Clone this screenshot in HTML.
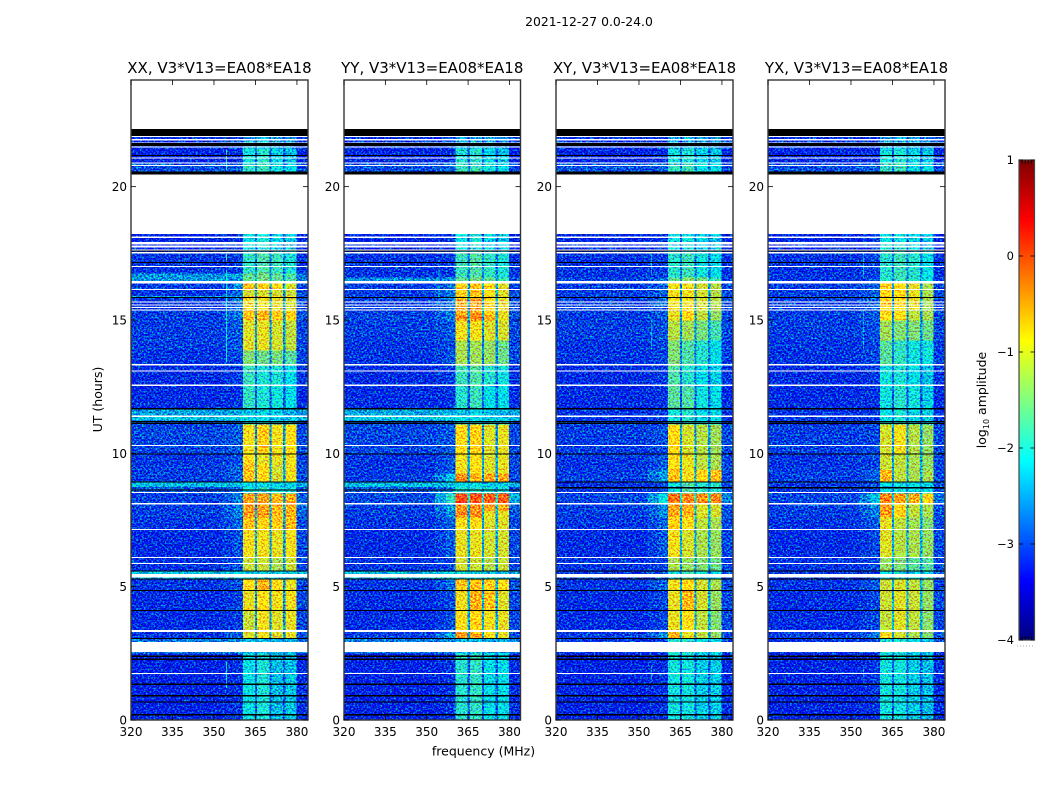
<!DOCTYPE html>
<html lang="en">
<head>
<meta charset="utf-8">
<title>2021-12-27 dynamic spectra</title>
<style>
html,body{margin:0;padding:0;background:#fff;}
svg{display:block;font-family:"DejaVu Sans","Liberation Sans",sans-serif;fill:#000;}
</style>
</head>
<body>
<svg id="chart" xmlns="http://www.w3.org/2000/svg" width="1050" height="800" viewBox="0 0 1050 800">
<defs>
<filter id="grain" color-interpolation-filters="sRGB" x="0" y="0" width="1" height="1">
<feTurbulence type="fractalNoise" baseFrequency="0.52 0.58" numOctaves="2" seed="7" result="n"/>
<feColorMatrix in="n" type="matrix" values="0 0 0 0 0.5  2.2 0 0 0 -0.68  0 0 1.8 0 -0.45  0 0 0 0 1" result="g"/>
<feComposite in="SourceGraphic" in2="g" operator="arithmetic" k1="0" k2="1" k3="1" k4="-0.5"/>
</filter>
</defs>
<rect x="0" y="0" width="1050" height="800" fill="#fff"/>
<text x="589" y="26" font-size="12.4" text-anchor="middle">2021-12-27 0.0-24.0</text>
<text x="483.5" y="755.5" font-size="12.5" text-anchor="middle">frequency (MHz)</text>
<text transform="translate(102 399.5) rotate(-90)" font-size="12.5" text-anchor="middle">UT (hours)</text>
<text transform="translate(986 400) rotate(-90)" font-size="12.5" text-anchor="middle">log<tspan font-size="8" dy="3">10</tspan><tspan dy="-3"> amplitude</tspan></text>
<g id="panels"></g>
<g id="colorbar"></g>
</svg>
<script>
// Frequency axis (MHz)
const freqMin = 320;
const freqMax = 384;
const freqTicks = [320, 335, 350, 365, 380];
// Time axis (hours)
const timeMax = 24;
const timeTicks = [0, 5, 10, 15, 20];
// Colour scale (log10 amplitude)
const colorMin = -4;
const colorMax = 1;
const colorTicks = [-4, -3, -2, -1, 0, 1];
const colorTickLabels = ['\u22124', '\u22123', '\u22122', '\u22121', '0', '1'];

// Heatmap column edges in MHz
const freqEdges = [320, 353, 357, 360.5, 364.8, 365.6, 370, 370.8, 375, 375.9, 379.9, 384];

// Row layout: startHour, endHour, background, spill, band1, band2, band3, band4, gap, tail (log10 amplitude)
const xxRows = [
[0,2.51,-3.15,-3.05,-2.1,-2.0,-2.35,-2.3,-2.85,-3.1],
[2.51,3.04,-2.7,-2.6,-2.35,-2.3,-2.4,-2.4,-2.55,-2.7],
[3.04,3.3,-3.05,-2.8,-1.05,-0.95,-1.05,-1.0,-2.55,-2.95],
[3.3,4.09,-3.1,-3.0,-1.15,-0.95,-1.05,-1.0,-2.55,-2.95],
[4.09,4.2,-3.05,-2.6,-0.6,-0.7,-1.0,-1.1,-2.55,-2.95],
[4.2,4.85,-3.1,-3.0,-1.0,-0.9,-0.95,-0.95,-2.55,-2.95],
[4.85,5.29,-3.05,-2.9,-0.85,-0.6,-0.9,-1.0,-2.55,-2.95],
[5.29,5.59,-2.3,-2.25,-2.15,-2.15,-2.25,-2.25,-2.4,-2.4],
[5.59,6.08,-3.05,-2.85,-1.15,-1.15,-1.3,-1.15,-2.55,-2.95],
[6.08,7.13,-3.1,-2.9,-0.95,-0.95,-1.0,-0.95,-2.5,-2.95],
[7.13,7.61,-3.05,-2.8,-0.7,-0.8,-0.75,-0.65,-2.5,-2.9],
[7.61,8.51,-3.0,-2.65,-0.5,-0.5,-0.65,-0.6,-2.45,-2.8],
[8.51,8.75,-2.9,-2.8,-2.05,-1.95,-2.05,-2.05,-2.5,-2.95],
[8.75,8.96,-2.35,-2.3,-2.15,-2.15,-2.25,-2.25,-2.4,-2.4],
[8.96,9.6,-3.0,-2.8,-0.7,-0.85,-1.1,-0.95,-2.5,-2.95],
[9.6,10,-3.05,-2.9,-0.85,-1.0,-1.0,-0.95,-2.55,-2.95],
[10,11.1,-2.95,-2.85,-0.95,-0.75,-0.95,-0.9,-2.55,-2.95],
[11.1,11.25,-2.95,-2.85,-2.25,-2.15,-2.25,-2.35,-2.65,-2.95],
[11.25,11.41,-2.3,-2.25,-2.2,-2.15,-2.25,-2.25,-2.4,-2.4],
[11.41,11.66,-2.5,-2.45,-2.3,-2.2,-2.3,-2.4,-2.5,-2.55],
[11.66,12.53,-3.1,-3.05,-1.9,-2.0,-2.05,-2.15,-2.85,-3.1],
[12.53,13.28,-3.1,-3.0,-1.85,-2.0,-2.0,-2.15,-2.75,-3.05],
[13.28,13.87,-3.05,-2.95,-1.5,-1.6,-1.55,-1.7,-2.65,-2.95],
[13.87,15,-3.0,-2.85,-1.05,-1.0,-1.1,-1.2,-2.55,-2.95],
[15,15.38,-3.0,-2.7,-0.7,-0.65,-0.75,-0.8,-2.5,-2.9],
[15.38,15.86,-3.05,-2.75,-0.95,-0.95,-1.0,-1.1,-2.5,-2.95],
[15.86,15.92,-2.5,-2.4,-0.7,-0.7,-0.8,-0.9,-2.45,-2.8],
[15.92,16.13,-3.05,-2.8,-1.1,-1.1,-1.1,-1.15,-2.55,-2.95],
[16.13,16.39,-3.0,-2.6,-0.65,-0.7,-0.9,-1.1,-2.5,-2.95],
[16.39,16.75,-2.55,-2.5,-1.65,-1.55,-1.65,-1.75,-2.45,-2.7],
[16.75,17.51,-3.05,-3.0,-1.9,-1.75,-1.85,-2.0,-2.65,-3.05],
[17.51,18.22,-3.15,-3.05,-2.1,-2.0,-2.2,-2.3,-2.85,-3.15],
[20.46,20.9,-2.9,-2.8,-1.9,-1.85,-2.05,-2.15,-2.65,-2.95],
[20.9,21.45,-3.15,-3.1,-2.05,-1.95,-2.2,-2.3,-2.85,-3.15],
[21.45,21.9,-3.05,-3.0,-2.5,-2.4,-2.5,-2.6,-2.9,-3.05]
];
const yyRows = [
[0,2.51,-3.15,-3.05,-1.95,-1.9,-2.15,-2.15,-2.85,-3.1],
[2.51,3.04,-2.7,-2.6,-2.4,-2.35,-2.45,-2.45,-2.55,-2.7],
[3.04,3.3,-3.0,-2.5,-0.45,-0.55,-0.9,-1.0,-2.45,-2.9],
[3.3,4.09,-3.1,-2.9,-0.9,-0.8,-0.95,-1.0,-2.45,-2.95],
[4.09,4.84,-3.1,-2.95,-0.95,-0.6,-0.7,-1.05,-2.45,-2.95],
[4.84,5.29,-3.05,-2.7,-0.7,-0.7,-0.8,-0.9,-2.45,-2.9],
[5.29,5.59,-2.35,-2.3,-2.2,-2.2,-2.3,-2.3,-2.4,-2.4],
[5.59,6.08,-3.05,-2.95,-1.1,-1.15,-1.25,-1.15,-2.55,-2.95],
[6.08,7.13,-3.1,-2.85,-1.0,-1.0,-1.1,-1.1,-2.45,-2.95],
[7.13,7.61,-3.05,-2.8,-0.9,-0.9,-1.05,-1.05,-2.45,-2.95],
[7.61,7.85,-3.0,-2.6,-0.4,-0.4,-1.0,-1.0,-2.45,-2.9],
[7.85,8.1,-3.0,-2.5,-0.45,-0.45,-0.55,-0.55,-2.35,-2.8],
[8.1,8.51,-2.95,-1.9,-0.08,-0.1,-0.15,-0.18,-1.95,-2.4],
[8.51,8.75,-2.85,-2.6,-2.0,-1.95,-2.05,-2.05,-2.45,-2.85],
[8.75,8.96,-2.35,-2.3,-2.15,-2.15,-2.25,-2.25,-2.4,-2.4],
[8.96,9.25,-3.0,-2.3,-0.4,-0.6,-0.55,-0.55,-2.45,-2.95],
[9.25,10,-3.05,-2.85,-0.95,-0.9,-1.05,-1.0,-2.45,-2.95],
[10,11.1,-2.95,-2.85,-0.85,-0.8,-1.05,-1.0,-2.55,-2.95],
[11.1,11.25,-2.95,-2.85,-2.25,-2.15,-2.25,-2.35,-2.65,-2.95],
[11.25,11.41,-2.25,-2.2,-2.15,-2.15,-2.25,-2.25,-2.3,-2.3],
[11.41,11.66,-2.45,-2.4,-2.3,-2.2,-2.3,-2.4,-2.5,-2.5],
[11.66,12.53,-3.1,-3.05,-1.95,-1.85,-2.15,-2.15,-2.85,-3.1],
[12.53,13.28,-3.1,-3.0,-1.85,-1.75,-1.95,-2.05,-2.75,-3.05],
[13.28,14.25,-3.05,-2.9,-1.3,-1.35,-1.4,-1.6,-2.65,-2.95],
[14.25,15.0,-3.0,-2.85,-0.95,-0.95,-1.05,-1.1,-2.55,-2.95],
[15.0,15.2,-2.95,-2.7,-0.4,-0.35,-0.55,-1.0,-2.45,-2.9],
[15.2,15.86,-3.0,-2.7,-0.6,-0.55,-0.8,-1.0,-2.45,-2.9],
[15.86,16.39,-3.0,-2.7,-0.8,-0.7,-0.9,-1.05,-2.45,-2.95],
[16.39,16.61,-2.6,-2.55,-1.65,-1.55,-1.65,-1.85,-2.45,-2.8],
[16.61,17.51,-3.05,-3.0,-1.85,-1.75,-1.9,-2.0,-2.65,-3.05],
[17.51,18.22,-3.15,-3.05,-2.1,-2.0,-2.2,-2.3,-2.85,-3.15],
[20.46,20.9,-2.9,-2.8,-1.85,-1.85,-2.05,-2.15,-2.65,-2.95],
[20.9,21.45,-3.15,-3.1,-2.0,-1.95,-2.2,-2.3,-2.85,-3.15],
[21.45,21.9,-3.05,-3.0,-2.45,-2.4,-2.5,-2.6,-2.9,-3.05]
];
const xyRows = [
[0,2.51,-3.15,-3.05,-2.05,-2.05,-2.25,-2.25,-2.85,-3.1],
[2.51,3.04,-3.05,-2.95,-1.95,-1.95,-2.15,-2.15,-2.65,-2.95],
[3.04,3.3,-3.0,-2.6,-0.6,-1.0,-1.2,-1.4,-2.45,-2.95],
[3.3,4.09,-3.1,-2.95,-1.0,-0.9,-1.2,-1.5,-2.45,-2.95],
[4.09,4.84,-3.1,-2.95,-1.0,-0.65,-1.1,-1.4,-2.45,-2.95],
[4.84,5.29,-3.05,-2.8,-0.95,-0.85,-1.1,-1.3,-2.45,-2.95],
[5.29,5.59,-3.05,-2.95,-2.05,-1.85,-2.05,-2.15,-2.65,-2.95],
[5.59,6.08,-3.05,-2.95,-1.3,-1.4,-1.5,-1.6,-2.55,-2.95],
[6.08,7.13,-3.1,-2.85,-0.95,-1.1,-1.3,-1.4,-2.45,-2.95],
[7.13,7.61,-3.05,-2.8,-0.8,-0.9,-1.2,-1.3,-2.45,-2.95],
[7.61,8.1,-3.0,-2.6,-0.55,-0.6,-1.05,-1.1,-2.35,-2.9],
[8.1,8.51,-2.95,-2.1,-0.25,-0.4,-0.45,-0.4,-2.05,-2.6],
[8.51,8.96,-3.05,-2.95,-2.05,-1.75,-1.95,-1.95,-2.55,-2.95],
[8.96,9.38,-3.0,-2.5,-0.7,-0.95,-0.8,-0.7,-2.45,-2.95],
[9.38,10,-3.05,-2.85,-0.9,-1.0,-1.2,-1.3,-2.45,-2.95],
[10,11.1,-3.0,-2.9,-0.85,-1.1,-1.25,-1.35,-2.55,-2.95],
[11.1,11.66,-3.05,-3.0,-2.05,-1.95,-2.15,-2.15,-2.75,-3.05],
[11.66,12.53,-3.1,-3.05,-1.7,-1.75,-2.05,-2.15,-2.85,-3.1],
[12.53,13.28,-3.1,-3.0,-1.75,-1.95,-2.15,-2.25,-2.75,-3.05],
[13.28,14.25,-3.05,-2.95,-1.5,-1.75,-1.95,-2.15,-2.65,-3.0],
[14.25,15.0,-3.0,-2.9,-1.25,-1.35,-1.55,-1.8,-2.55,-2.95],
[15.0,15.38,-3.0,-2.85,-1.0,-0.85,-1.2,-1.4,-2.55,-2.95],
[15.38,16.39,-3.0,-2.8,-0.95,-0.95,-1.1,-1.25,-2.55,-2.95],
[16.39,16.61,-2.95,-2.7,-1.65,-1.45,-1.55,-1.85,-2.45,-2.9],
[16.61,17.51,-3.05,-3.0,-1.95,-1.85,-2.05,-2.15,-2.75,-3.05],
[17.51,18.22,-3.15,-3.05,-2.05,-2.05,-2.2,-2.3,-2.85,-3.15],
[20.46,20.9,-2.9,-2.8,-1.9,-1.85,-2.1,-2.15,-2.65,-2.95],
[20.9,21.45,-3.15,-3.1,-2.05,-2.0,-2.2,-2.3,-2.85,-3.15],
[21.45,21.9,-3.05,-3.0,-2.5,-2.4,-2.5,-2.6,-2.9,-3.05]
];
const yxRows = [
[0,2.51,-3.15,-3.05,-2.05,-2.05,-2.25,-2.35,-2.85,-3.1],
[2.51,3.04,-3.05,-2.95,-2.0,-2.0,-2.15,-2.25,-2.65,-2.95],
[3.04,3.3,-3.0,-2.7,-0.85,-1.1,-1.3,-1.5,-2.45,-2.95],
[3.3,4.09,-3.1,-2.95,-1.2,-1.05,-1.2,-1.45,-2.45,-2.95],
[4.09,4.84,-3.1,-2.95,-1.15,-1.05,-1.15,-1.4,-2.45,-2.95],
[4.84,5.29,-3.05,-2.85,-1.15,-1.1,-1.2,-1.4,-2.45,-2.95],
[5.29,5.59,-3.05,-2.95,-2.15,-2.05,-2.15,-2.2,-2.65,-2.95],
[5.59,6.08,-3.05,-2.95,-1.4,-1.5,-1.7,-1.7,-2.55,-2.95],
[6.08,7.13,-3.1,-2.95,-1.05,-1.25,-1.3,-1.4,-2.45,-2.95],
[7.13,7.61,-3.05,-2.85,-1.0,-1.2,-1.35,-1.5,-2.45,-2.95],
[7.61,8.1,-3.0,-2.65,-0.5,-0.8,-1.2,-1.3,-2.35,-2.9],
[8.1,8.51,-2.95,-2.3,-0.35,-0.5,-0.55,-0.8,-2.15,-2.7],
[8.51,8.96,-3.05,-2.95,-2.15,-2.05,-2.15,-2.15,-2.65,-2.95],
[8.96,9.38,-3.0,-2.8,-0.65,-1.2,-1.3,-1.3,-2.45,-2.95],
[9.38,10,-3.05,-2.95,-1.15,-1.2,-1.3,-1.4,-2.45,-2.95],
[10,11.1,-3.0,-2.95,-1.1,-0.95,-1.25,-1.4,-2.55,-2.95],
[11.1,11.66,-3.05,-3.0,-2.1,-2.0,-2.15,-2.25,-2.75,-3.05],
[11.66,12.53,-3.1,-3.05,-2.05,-1.95,-2.05,-2.25,-2.85,-3.1],
[12.53,13.28,-3.1,-3.0,-2.05,-2.0,-2.15,-2.35,-2.75,-3.05],
[13.28,14.25,-3.05,-2.95,-1.7,-1.9,-2.05,-2.05,-2.65,-3.0],
[14.25,15.0,-3.0,-2.9,-1.35,-1.5,-1.5,-1.6,-2.55,-2.95],
[15.0,15.38,-3.0,-2.85,-0.9,-0.9,-1.2,-1.3,-2.55,-2.95],
[15.38,16.39,-3.0,-2.8,-0.8,-0.85,-1.0,-1.3,-2.55,-2.95],
[16.39,17.51,-3.05,-2.95,-1.95,-1.85,-1.95,-2.1,-2.65,-3.05],
[17.51,18.22,-3.15,-3.05,-2.1,-2.05,-2.2,-2.3,-2.85,-3.15],
[20.46,20.9,-2.9,-2.8,-1.9,-1.85,-2.1,-2.15,-2.65,-2.95],
[20.9,21.45,-3.15,-3.1,-2.05,-2.0,-2.2,-2.3,-2.85,-3.15],
[21.45,21.9,-3.05,-3.0,-2.5,-2.4,-2.5,-2.6,-2.9,-3.05]
];

// Flagged time ranges (hours): no data drawn white, zero amplitude drawn black
const whiteRanges = [
[22.16,24],[21.86,21.9],[21.74,21.78],[21.64,21.66],[21.48,21.51],[21.06,21.1],[20.88,20.91],[20.79,20.81],
[18.22,20.46],[18.08,18.14],[17.84,17.92],[17.72,17.79],[17.6,17.65],[17.5,17.55],[16.99,17.03],[16.36,16.46],
[16.13,16.16],[15.65,15.7],[15.55,15.59],[15.45,15.49],[15.35,15.39],[13.29,13.35],[13.06,13.1],[12.53,12.59],
[11.37,11.41],[10.28,10.31],[8.51,8.55],[8.09,8.13],[7.13,7.16],[6.08,6.11],[5.85,5.89],[5.34,5.48],
[3.3,3.38],[2.55,2.93],[1.73,1.76]
];
const blackRanges = [
[21.9,22.16],[21.53,21.63],[21.15,21.18],[20.46,20.56],[17.56,17.6],[17.14,17.18],[15.84,15.86],[11.65,11.7],
[11.18,11.22],[11.1,11.15],[9.98,10.0],[8.9,8.95],[5.57,5.61],[5.28,5.31],[4.83,4.88],[4.08,4.13],[3.03,3.07],
[2.37,2.41],[2.25,2.31],[1.31,1.36],[0.89,0.93],[0.65,0.69],[0.17,0.22]
];
const xxExtraBlack = [[8.6,8.65]];
const yyExtraBlack = [[8.6,8.65]];
const xyExtraBlack = [[8.68,8.73]];
const yxExtraBlack = [[8.68,8.73]];

// Narrow interference spikes: frequency MHz, startHour, endHour, level
const xxSpikes = [[354.3,13.4,16.9,-2.1],[354.3,17.2,17.5,-1.7],[354.3,20.6,21.4,-1.9],[354.3,1.2,2.2,-2.1]];
const yySpikes = [[354.3,15.6,17.1,-2.4]];
const xySpikes = [[354.3,13.9,15.0,-2.5],[354.3,16.7,17.5,-2.4],[354.3,1.5,2.0,-2.5]];
const yxSpikes = [[354.3,13.9,15.4,-2.5],[354.3,16.6,17.5,-2.4],[354.3,1.6,2.0,-2.6]];

const panelTitles = ['XX, V3*V13=EA08*EA18', 'YY, V3*V13=EA08*EA18', 'XY, V3*V13=EA08*EA18', 'YX, V3*V13=EA08*EA18'];
const panelKeys = ['xx', 'yy', 'xy', 'yx'];
const panelRows = [xxRows, yyRows, xyRows, yxRows];
const panelExtraBlack = [xxExtraBlack, yyExtraBlack, xyExtraBlack, yxExtraBlack];
const panelSpikes = [xxSpikes, yySpikes, xySpikes, yxSpikes];

const SVGNS = 'http://www.w3.org/2000/svg';
const plotTop = 80, plotBottom = 720;
const panelLefts = [131, 344, 556, 768];
const panelRights = [308, 520.5, 733, 945];

function mk(parent, tag, attrs, text) {
  const node = document.createElementNS(SVGNS, tag);
  for (const k in attrs) node.setAttribute(k, attrs[k]);
  if (text !== undefined) node.textContent = text;
  parent.appendChild(node);
  return node;
}
function clamp01(v) { return Math.max(0, Math.min(1, v)); }
function jet(v) {
  const t = (v - colorMin) / (colorMax - colorMin);
  const r = clamp01(Math.min(4 * t - 1.5, -4 * t + 4.5));
  const g = clamp01(Math.min(4 * t - 0.5, -4 * t + 3.5));
  const b = clamp01(Math.min(4 * t + 0.5, -4 * t + 2.5));
  return 'rgb(' + Math.round(r * 255) + ',' + Math.round(g * 255) + ',' + Math.round(b * 255) + ')';
}
function xScale(i, f) { return panelLefts[i] + (f - freqMin) / (freqMax - freqMin) * (panelRights[i] - panelLefts[i]); }
function yScale(h) { return plotBottom - h / timeMax * (plotBottom - plotTop); }
function rowColumns(r) {
  const bg = r[2], spill = r[3], gap = r[8];
  return [bg, (bg + spill) / 2, spill, r[4], gap, r[5], gap, r[6], gap, r[7], r[9]];
}

const panelsRoot = document.getElementById('panels');
panelKeys.forEach(function (key, i) {
  const panel = mk(panelsRoot, 'g', {});
  
  
  const cells = mk(panel, 'g', { filter: 'url(#grain)', 'shape-rendering': 'crispEdges' });
  
  
  panelRows[i].forEach(function (r) {
    const cols = rowColumns(r);
    cols.forEach(function (v, c) {
      const cell = mk(cells, 'rect', {
        x: xScale(i, freqEdges[c]), y: yScale(r[1]),
        width: xScale(i, freqEdges[c + 1]) - xScale(i, freqEdges[c]) + 0.3,
        height: yScale(r[0]) - yScale(r[1]) + 0.3, fill: jet(v)
      });
      
      
    });
  });
  panelSpikes[i].forEach(function (s) {
    const spike = mk(cells, 'rect', {
      x: xScale(i, s[0]), y: yScale(s[2]), width: 1, height: yScale(s[1]) - yScale(s[2]), fill: jet(s[3])
    });
    
    
  });
  const flags = mk(panel, 'g', { 'shape-rendering': 'crispEdges' });
  
  
  whiteRanges.forEach(function (w) {
    const band = mk(flags, 'rect', {
      x: panelLefts[i], y: yScale(w[1]), width: panelRights[i] - panelLefts[i],
      height: Math.max(1, yScale(w[0]) - yScale(w[1])), fill: '#fff'
    });
    
    
  });
  blackRanges.concat(panelExtraBlack[i]).forEach(function (b) {
    const band = mk(flags, 'rect', {
      x: panelLefts[i], y: yScale(b[1]), width: panelRights[i] - panelLefts[i],
      height: Math.max(1, yScale(b[0]) - yScale(b[1])), fill: '#000'
    });
    
    
  });
  const frame = mk(panel, 'rect', {
    x: panelLefts[i], y: plotTop, width: panelRights[i] - panelLefts[i], height: plotBottom - plotTop,
    fill: 'none', stroke: '#333', 'stroke-width': 1.4
  });
  
  
  const title = mk(panel, 'text', {
    x: (panelLefts[i] + panelRights[i]) / 2, y: 73, 'font-size': 15, 'text-anchor': 'middle'
  }, panelTitles[i]);
  
  
  freqTicks.forEach(function (f) {
    const x = xScale(i, f);
    const t1 = mk(panel, 'line', { x1: x, x2: x, y1: plotBottom, y2: plotBottom - 5, stroke: '#000', 'stroke-width': 0.8 });
    
    
    const t2 = mk(panel, 'line', { x1: x, x2: x, y1: plotTop, y2: plotTop + 5, stroke: '#000', 'stroke-width': 0.8 });
    
    
    const label = mk(panel, 'text', { x: x, y: 736, 'font-size': 12, 'text-anchor': 'middle' }, String(f));
    
    
  });
  timeTicks.forEach(function (h) {
    const y = yScale(h);
    const t1 = mk(panel, 'line', { x1: panelLefts[i], x2: panelLefts[i] + 5, y1: y, y2: y, stroke: '#000', 'stroke-width': 0.8 });
    
    
    const t2 = mk(panel, 'line', { x1: panelRights[i], x2: panelRights[i] - 5, y1: y, y2: y, stroke: '#000', 'stroke-width': 0.8 });
    
    
    const label = mk(panel, 'text', { x: panelLefts[i] - 4, y: y + 4.5, 'font-size': 12, 'text-anchor': 'end' }, String(h));
    
    
  });
});

// Colorbar
const cbRoot = document.getElementById('colorbar');
const cbLeft = 1019, cbRight = 1034.5, cbTop = 160, cbBottom = 640;
function cbY(v) { return cbBottom - (v - colorMin) / (colorMax - colorMin) * (cbBottom - cbTop); }
const cbSteps = 256;
const cbGroup = mk(cbRoot, 'g', { 'shape-rendering': 'crispEdges' });


for (let s = 0; s < cbSteps; s++) {
  const v0 = colorMin + (colorMax - colorMin) * s / cbSteps;
  const v1 = colorMin + (colorMax - colorMin) * (s + 1) / cbSteps;
  const seg = mk(cbGroup, 'rect', { x: cbLeft, y: cbY(v1), width: cbRight - cbLeft, height: cbY(v0) - cbY(v1) + 0.5, fill: jet((v0 + v1) / 2) });
  
  
}
const cbFrame = mk(cbRoot, 'rect', { x: cbLeft, y: cbTop, width: cbRight - cbLeft, height: cbBottom - cbTop, fill: 'none', stroke: '#444', 'stroke-width': 1.2 });


colorTicks.forEach(function (v, k) {
  const y = cbY(v);
  const a = mk(cbRoot, 'line', { x1: cbLeft, x2: cbLeft + 4, y1: y, y2: y, stroke: '#000', 'stroke-width': 0.8 });
  
  
  const b = mk(cbRoot, 'line', { x1: cbRight, x2: cbRight - 4, y1: y, y2: y, stroke: '#000', 'stroke-width': 0.8 });
  
  
  const label = mk(cbRoot, 'text', { x: 1014, y: y + 4, 'font-size': 11.5, 'text-anchor': 'end' }, colorTickLabels[k]);
  
  
});
[cbTop, cbBottom].forEach(function (edgeY) {
  const dir = edgeY === cbTop ? 1 : -1;
  for (let m = 1; m <= 4; m++) {
    const mx = cbLeft + (cbRight - cbLeft) * m / 5;
    const mark = mk(cbRoot, 'line', { x1: mx, x2: mx, y1: edgeY, y2: edgeY + dir * 4, stroke: '#000', 'stroke-width': 0.8 });
    
    
  }
});
const cbDots = mk(cbRoot, 'line', { x1: 1017, x2: 1035, y1: 646, y2: 646, stroke: '#aaa', 'stroke-width': 1, 'stroke-dasharray': '1 2' });


</script>
</body>
</html>
